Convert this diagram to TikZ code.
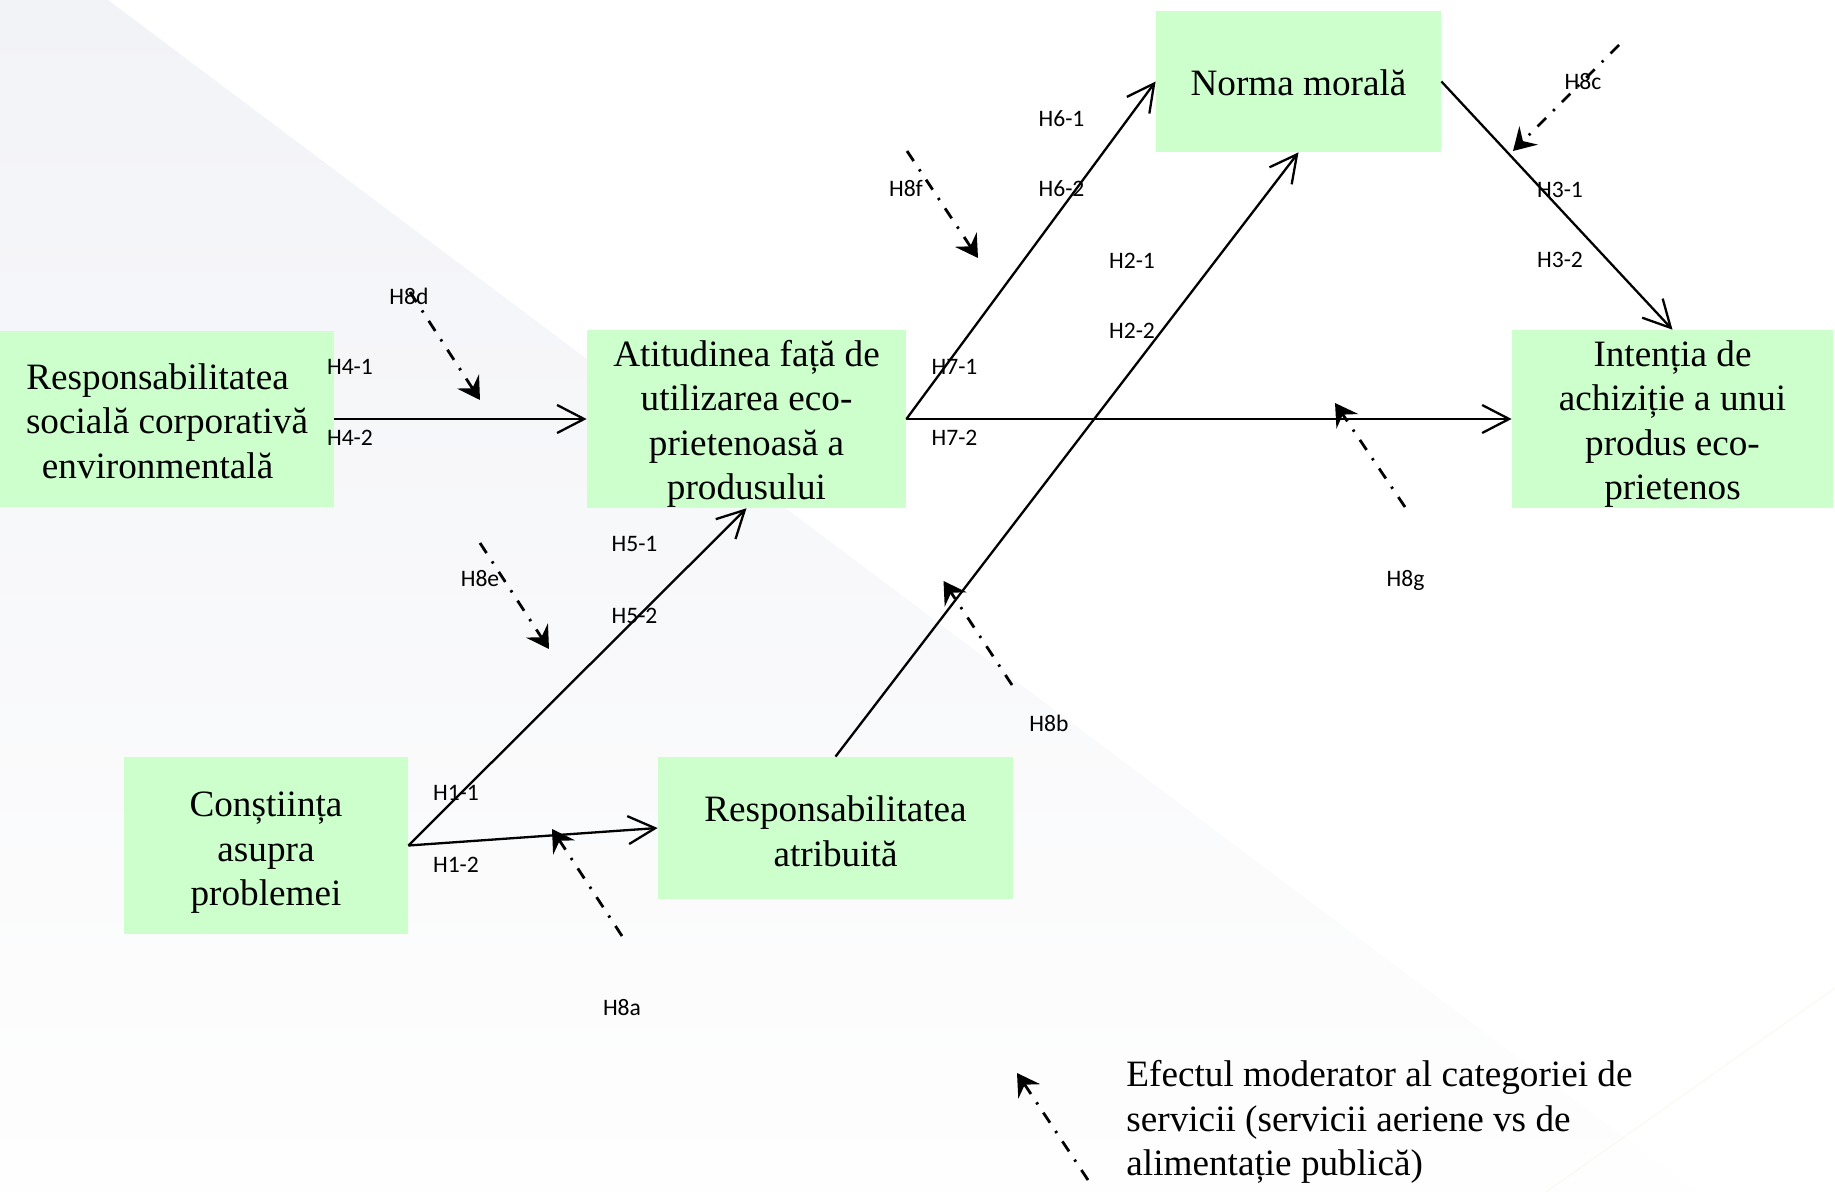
\documentclass[tikz,border=0pt]{standalone}
\usepackage{fontspec}
\setmainfont{Liberation Serif}
\newfontfamily\labelfont{Carlito}
\usetikzlibrary{arrows.meta}
\definecolor{boxgreen}{HTML}{CCFFCC}
\definecolor{bggray}{HTML}{F2F3F7}
\definecolor{bgwhite}{HTML}{FEFEFE}
\definecolor{faintline}{HTML}{FAF9F1}
% strut on the first line of a box: sets how far the text block sits below the box centre
\newcommand\firstline[1]{\rule{0pt}{#1}}
% trailing space that moves a centred line a little to the left
\newcommand\padright{\hspace*{9.4pt}}
\begin{document}
\begin{tikzpicture}[x=0.5pt,y=-0.5pt,
  bodytext/.style={font={\fontsize{18.6pt}{22.3pt}\selectfont}},
  box/.style={bodytext, fill=boxgreen, inner sep=0pt, align=center},
  hlabel/.style={font={\labelfont\fontsize{11.8pt}{14pt}\selectfont}, inner sep=0pt},
  hyp/.style={line width=1.15pt, -{Straight Barb[length=13.5pt,width=14pt]}},
  moder/.style={line width=1.4pt, dash pattern=on 6pt off 5pt on 1.2pt off 5pt,
    -{Stealth[length=11pt,width=13pt,inset=4pt]}}]

% page and diagonal background band
\useasboundingbox (0,0) rectangle (1835,1192);
\fill[white] (0,0) rectangle (1835,1192);
\shade[shading angle=-36.87, top color=bggray, middle color=bggray, bottom color=bgwhite]
  (0,0) -- (108,0) -- (1697,1192) -- (0,1192) -- cycle;
\draw[faintline, line width=0.5pt] (1546,1192) -- (1835,988);

% constructs
\node[box, minimum width=167pt, minimum height=88pt] (rsce) at (167,419)
  {\firstline{15pt}Responsabilitatea\padright\\socială corporativă\padright\\environmentală\padright};
\node[box, minimum width=159.5pt, minimum height=88pt] (att) at (746.5,419)
  {\firstline{18pt}Atitudinea față de\\utilizarea eco-\\prietenoasă a\\produsului};
\node[box, minimum width=142.5pt, minimum height=70.5pt] (norma) at (1298.5,81.5)
  {\firstline{14pt}Norma morală};
\node[box, minimum width=160.5pt, minimum height=88pt] (intent) at (1672.5,419)
  {\firstline{18pt}Intenția de\\achiziție a unui\\produs eco-\\prietenos};
\node[box, minimum width=142pt, minimum height=88.5pt] (const) at (266,845.5)
  {\firstline{19.7pt}Conștiința\\asupra\\problemei};
\node[box, minimum width=177.5pt, minimum height=71pt] (respatr) at (835.5,828)
  {\firstline{16.2pt}Responsabilitatea\\atribuită};

% hypothesised paths
\draw[hyp] (rsce.east) -- (att.west);
\draw[hyp] (att.east) -- (norma.west);
\draw[hyp] (att.east) -- (intent.west);
\draw[hyp] (respatr.north) -- (norma.south);
\draw[hyp] (norma.east) -- (intent.north);
\draw[hyp] (const.east) -- (att.south);
\draw[hyp] (const.east) -- (respatr.west);

% moderator arrows (service category)
\coordinate (d0) at (410,292);   \coordinate (d1) at (480,400);
\coordinate (e0) at (480,543);   \coordinate (e1) at (549,649);
\coordinate (f0) at (907,151);   \coordinate (f1) at (978,258);
\coordinate (c0) at (1619,45);   \coordinate (c1) at (1513,151);
\coordinate (g0) at (1405,507);  \coordinate (g1) at (1335,403);
\coordinate (b0) at (1012,685);  \coordinate (b1) at (943.5,581);
\coordinate (a0) at (622,936);   \coordinate (a1) at (552,829);
\coordinate (k0) at (1088,1180); \coordinate (k1) at (1017,1073);
\draw[moder] (d0) -- (d1);
\draw[moder] (e0) -- (e1);
\draw[moder] (f0) -- (f1);
\draw[moder] (c0) -- (c1);
\draw[moder] (g0) -- (g1);
\draw[moder] (b0) -- (b1);
\draw[moder] (a0) -- (a1);
\draw[moder] (k0) -- (k1);

% hypothesis labels
\node[hlabel] (l41) at (350,367) {H4-1};
\node[hlabel] (l42) at (350,438) {H4-2};
\node[hlabel] (l8d) at (409,296) {H8d};
\node[hlabel] (l8e) at (480,579) {H8e};
\node[hlabel] (l51) at (634.5,544) {H5-1};
\node[hlabel] (l52) at (634.5,616) {H5-2};
\node[hlabel] (l11) at (456,793) {H1-1};
\node[hlabel] (l12) at (456,864.5) {H1-2};
\node[hlabel] (l8a) at (622,1007.5) {H8a};
\node[hlabel] (l8b) at (1049,723) {H8b};
\node[hlabel] (l61) at (1061.5,118.5) {H6-1};
\node[hlabel] (l62) at (1061.5,189) {H6-2};
\node[hlabel] (l8f) at (906,188) {H8f};
\node[hlabel] (l21) at (1132,261) {H2-1};
\node[hlabel] (l22) at (1132,331) {H2-2};
\node[hlabel] (l71) at (954.5,367) {H7-1};
\node[hlabel] (l72) at (954.5,438) {H7-2};
\node[hlabel] (l8c) at (1583,82) {H8c};
\node[hlabel] (l31) at (1560,190) {H3-1};
\node[hlabel] (l32) at (1560,260) {H3-2};
\node[hlabel] (l8g) at (1405.5,580) {H8g};

% legend
\node[bodytext, anchor=west, align=left, inner sep=0pt] (legend) at (1126,1122)
  {Efectul moderator al categoriei de\\servicii (servicii aeriene vs de\\alimentație publică)};
\end{tikzpicture}
\end{document}
